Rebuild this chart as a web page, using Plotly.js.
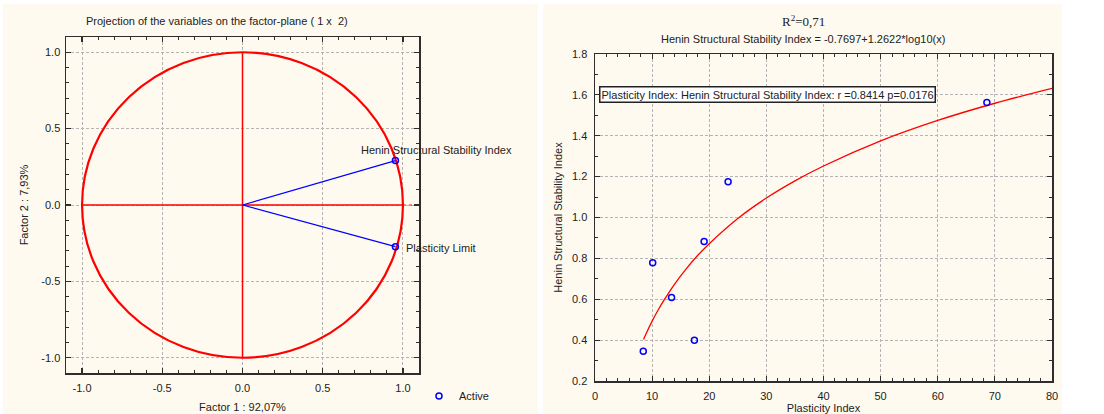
<!DOCTYPE html>
<html>
<head>
<meta charset="utf-8">
<script src="https://cdn.plot.ly/plotly-3.0.1.min.js"></script>
<style>
  html, body { margin: 0; padding: 0; background: #ffffff; }
  #chart { width: 1104px; height: 414px; }
</style>
</head>
<body>
<div id="chart"></div>
<script>
// ---- Left panel: projection of variables on factor plane (1 x 2) ----
const variableNames = ['Henin Structural Stability Index', 'Plasticity Limit'];
const factor1Loadings = [0.953, 0.953];
const factor2Loadings = [0.291, -0.273];
const factorAxisTicks = [-1.0, -0.5, 0.0, 0.5, 1.0];
const factorAxisLabels = ['-1.0', '-0.5', '0.0', '0.5', '1.0'];

// ---- Right panel: scatter with logarithmic fit ----
const plasticityIndex = [8.45, 10.1, 13.4, 17.4, 19.1, 23.3, 68.6];
const heninIndex = [0.346, 0.778, 0.609, 0.400, 0.883, 1.175, 1.563];
// fitted curve
const fitX = [8.5, 9, 10, 11, 12, 14, 16, 18, 20, 25, 30, 35, 40, 50, 60, 70, 80];
const fitY = [0.403, 0.435, 0.493, 0.545, 0.592, 0.677, 0.750, 0.815, 0.872, 0.995, 1.095, 1.179, 1.252, 1.375, 1.475, 1.559, 1.632];
const rightTitle = 'R<sup>2</sup>=0,71';
const rightSubtitle = 'Henin Structural Stability Index = -0.7697+1.2622*log10(x)';
const corrText = 'Plasticity Index: Henin Structural Stability Index: r =0.8414 p=0.0176';

const W = 1104, H = 414;
const px = v => v / W;
const py = v => (H - v) / H;

const FONT = 'Arial, "Liberation Sans", sans-serif';
const TXT = '#222222';
const CREAM = '#fffaef';
const FRAME = '#2e2e2e';
const GRID = '#b4b4b4';

// loading vectors from the origin
const vecX = [], vecY = [];
factor1Loadings.forEach((v, i) => { vecX.push(0, v, null); vecY.push(0, factor2Loadings[i], null); });

const traces = [
  {
    x: vecX, y: vecY, xaxis: 'x', yaxis: 'y', mode: 'lines',
    line: { color: '#0000ff', width: 1.2 }, showlegend: false, hoverinfo: 'skip'
  },
  {
    x: factor1Loadings, y: factor2Loadings, xaxis: 'x', yaxis: 'y', mode: 'markers',
    name: 'Active', text: variableNames,
    marker: { symbol: 'circle-open', size: 6, color: '#0000ff', line: { width: 1.5, color: '#0000ff' } },
    showlegend: true
  },
  {
    x: fitX, y: fitY, xaxis: 'x2', yaxis: 'y2', mode: 'lines',
    line: { color: '#ff0000', width: 1.3, shape: 'spline' }, showlegend: false
  },
  {
    x: plasticityIndex, y: heninIndex, xaxis: 'x2', yaxis: 'y2', mode: 'markers',
    marker: { symbol: 'circle-open', size: 6, color: '#0000ff', line: { width: 1.5, color: '#0000ff' } },
    showlegend: false
  }
];

const minorTicks = d => ({ dtick: d, ticks: 'inside', ticklen: 3, tickwidth: 1, tickcolor: FRAME, showgrid: false });

const axisCommon = {
  showline: true, linecolor: FRAME, linewidth: 1.5, mirror: 'allticks',
  ticks: 'inside', ticklen: 5, tickwidth: 1.2, tickcolor: FRAME,
  showgrid: true, gridcolor: GRID, griddash: '3px,2px', gridwidth: 1,
  zeroline: false, tickfont: { family: FONT, size: 11, color: TXT },
  fixedrange: true
};

const layout = {
  width: W, height: H,
  margin: { l: 0, r: 0, t: 0, b: 0 },
  paper_bgcolor: '#ffffff', plot_bgcolor: '#ffffff',
  font: { family: FONT, size: 11, color: TXT },
  showlegend: true,
  legend: {
    x: px(419), y: py(396), xanchor: 'left', yanchor: 'middle',
    bgcolor: 'rgba(0,0,0,0)', font: { family: FONT, size: 11, color: TXT }
  },
  xaxis: Object.assign({}, axisCommon, {
    domain: [px(66), px(419)], range: [-1.1, 1.1], anchor: 'y',
    tickvals: factorAxisTicks, ticktext: factorAxisLabels, ticklabelstandoff: 4,
    minor: minorTicks(0.1),
    title: { text: 'Factor 1 : 92,07%', font: { family: FONT, size: 11, color: TXT }, standoff: 10 }
  }),
  yaxis: Object.assign({}, axisCommon, {
    domain: [(H - 373) / H, (H - 37) / H], range: [-1.1, 1.1], anchor: 'x',
    tickvals: factorAxisTicks, ticktext: factorAxisLabels, ticklabelstandoff: 2,
    minor: minorTicks(0.1),
    title: { text: 'Factor 2 : 7,93%', font: { family: FONT, size: 11, color: TXT }, standoff: 10 }
  }),
  xaxis2: Object.assign({}, axisCommon, {
    domain: [px(595), px(1052)], range: [0, 80], anchor: 'y2',
    dtick: 10, tick0: 0, ticklabelstandoff: 4,
    minor: minorTicks(2),
    title: { text: 'Plasticity Index', font: { family: FONT, size: 11, color: TXT }, standoff: 6 }
  }),
  yaxis2: Object.assign({}, axisCommon, {
    domain: [(H - 381) / H, (H - 54) / H], range: [0.2, 1.8], anchor: 'x2',
    dtick: 0.2, tick0: 0.2, tickformat: '.1f', ticklabelstandoff: 4,
    minor: minorTicks(0.1),
    title: { text: 'Henin Structural Stability Index', font: { family: FONT, size: 11, color: TXT }, standoff: 7 }
  }),
  shapes: [
    // panel backgrounds
    { type: 'rect', xref: 'paper', yref: 'paper', x0: px(3), x1: px(538), y0: 0, y1: py(4), layer: 'below', fillcolor: CREAM, line: { width: 0 } },
    { type: 'rect', xref: 'paper', yref: 'paper', x0: px(543), x1: px(1062), y0: 0, y1: py(4), layer: 'below', fillcolor: CREAM, line: { width: 0 } },
    // unit circle and axes of the factor plane
    { type: 'circle', xref: 'x', yref: 'y', x0: -1, x1: 1, y0: -1, y1: 1, line: { color: '#ff0000', width: 2.2 }, layer: 'between' },
    { type: 'line', xref: 'x', yref: 'y', x0: -1, x1: 1, y0: 0, y1: 0, line: { color: '#ff0000', width: 1.5 }, layer: 'between' },
    { type: 'line', xref: 'x', yref: 'y', x0: 1, x1: 1.1, y0: 0, y1: 0, line: { color: '#ff0000', width: 1.2, dash: 'dot' }, layer: 'between' },
    { type: 'line', xref: 'x', yref: 'y', x0: 0, x1: 0, y0: -1, y1: 1, line: { color: '#ff0000', width: 1.5 }, layer: 'between' }
  ],
  annotations: [
    { xref: 'paper', yref: 'paper', x: px(217), y: py(21), xanchor: 'center', yanchor: 'middle', showarrow: false,
      text: 'Projection of the variables on the factor-plane ( 1 x  2)', font: { family: FONT, size: 11, color: TXT } },
    { xref: 'x', yref: 'y', x: factor1Loadings[0], y: factor2Loadings[0], xanchor: 'left', yanchor: 'middle', showarrow: false,
      xshift: -36, yshift: 10.5, text: variableNames[0], font: { family: FONT, size: 11, color: TXT } },
    { xref: 'x', yref: 'y', x: factor1Loadings[1], y: factor2Loadings[1], xanchor: 'left', yanchor: 'middle', showarrow: false,
      xshift: 8.5, yshift: -1.7, text: variableNames[1], font: { family: FONT, size: 11, color: TXT } },
    { xref: 'paper', yref: 'paper', x: px(803), y: py(21), xanchor: 'center', yanchor: 'middle', showarrow: false,
      text: rightTitle, font: { family: '"Liberation Serif", "Times New Roman", serif', size: 13, color: TXT } },
    { xref: 'paper', yref: 'paper', x: px(803), y: py(39.5), xanchor: 'center', yanchor: 'middle', showarrow: false,
      text: rightSubtitle, font: { family: FONT, size: 11, color: TXT } },
    { xref: 'paper', yref: 'paper', x: px(599), y: py(94), xanchor: 'left', yanchor: 'middle', showarrow: false,
      text: corrText, font: { family: FONT, size: 11, color: TXT },
      bgcolor: '#ffffff', bordercolor: '#222222', borderwidth: 1.5, borderpad: 1 }
  ]
};

Plotly.newPlot('chart', traces, layout, { displayModeBar: false, staticPlot: true });
</script>
</body>
</html>
